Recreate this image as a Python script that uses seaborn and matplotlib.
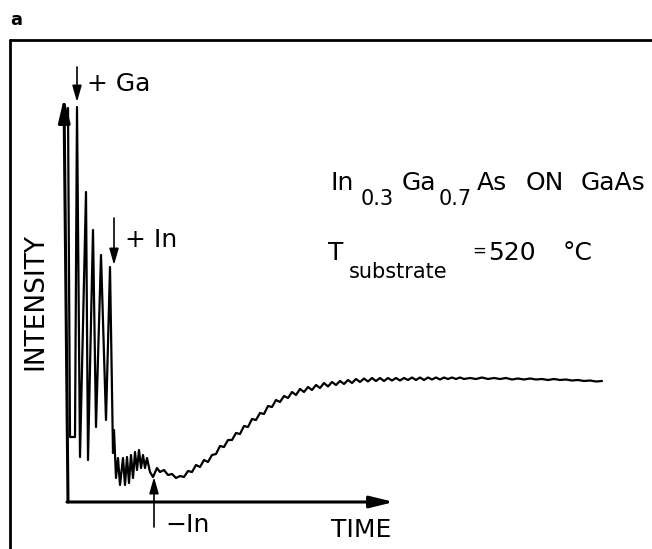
import matplotlib
matplotlib.use("Agg")
import matplotlib.pyplot as plt
from matplotlib.lines import Line2D
import seaborn as sns
import pandas as pd

# ---- data (time in arb. units, intensity in arb. units) ----
time = [0, 2, 7, 9, 12, 18, 20, 25, 28, 33, 38, 42, 45, 46, 48,
        50, 52, 55, 57, 59, 61, 63, 65, 67, 69, 71, 73, 75, 77, 79, 82,
        85, 89, 92, 96, 100, 104, 108, 112, 116, 120, 124,
        128, 132, 136, 140, 144, 148, 152, 156, 160, 164, 168, 172, 176, 180,
        184, 188, 192, 196, 200, 204, 208, 212, 216, 220, 224, 228, 232, 236,
        240, 244, 248, 252, 256, 260, 264, 268, 272, 276, 280, 284, 288, 292,
        296, 300, 304, 308, 312, 316, 320, 324, 328, 332, 336, 340, 344, 348,
        352, 356, 360, 364, 368, 372, 376, 380, 384, 388, 392, 396, 402, 408,
        414, 420, 426, 432, 438, 444, 450, 456, 462, 468, 474, 480, 486, 492,
        498, 504, 510, 516, 522, 528, 534]
intensity = [394, 65, 65, 395, 45, 310, 42, 272, 75, 247, 82, 235, 49, 72, 24,
             44, 17, 44, 17, 45, 19, 47, 24, 50, 32, 52, 34, 47, 34, 44, 30,
             25, 34, 30, 32, 27, 28, 24, 26, 25, 31, 30,
             37, 35, 42, 40, 47, 48, 56, 55, 62, 62, 69, 68, 76, 75,
             83, 82, 89, 88, 96, 95, 102, 100, 106, 104, 110, 107, 113, 110,
             115, 112, 117, 114, 119, 115.5, 120, 117, 121, 118, 122, 119, 123, 120,
             123.5, 120.5, 124, 121, 124, 121, 124, 121.5, 124, 121.5, 124, 122, 124.5, 122,
             124.5, 122, 124.5, 122.5, 124.5, 122.5, 124.5, 123, 124.5, 123, 124.5, 123, 124, 123,
             124.5, 123, 124, 123, 124, 122.5, 123.5, 122.5, 123.5, 122.5, 123, 122, 123, 122,
             122.5, 121.5, 122, 121, 121.5, 120.5, 121]

# annotation events: (label, time of arrow)
events_down = [("+ Ga", 9), ("+ In", 46)]
event_up = ("\u2212In", 86)

df = pd.DataFrame({"time": time, "intensity": intensity})

sns.set_theme(style="white")
plt.rcParams["font.family"] = ["DejaVu Sans"]
plt.rcParams["text.color"] = "black"

W, H = 652, 549
fig = plt.figure(figsize=(W / 100, H / 100), dpi=100)
ax = fig.add_axes([0, 0, 1, 1])
ax.set_xlim(-68, W - 68)
ax.set_ylim(502 - H, 502)
ax.axis("off")

# signal
sns.lineplot(data=df, x="time", y="intensity", sort=False, estimator=None,
             color="black", lw=1.6, ax=ax)

# axes arrows
head = "-|>,head_length=0.9,head_width=0.22"
ax.annotate("", xy=(-4, 404), xytext=(0, 0),
            arrowprops=dict(arrowstyle=head, lw=2.2, color="black",
                            shrinkA=0, shrinkB=0, mutation_scale=16))
ax.annotate("", xy=(326, 0), xytext=(-1, 0),
            arrowprops=dict(arrowstyle=head, lw=2.2, color="black",
                            shrinkA=0, shrinkB=0, mutation_scale=16))

# frame (top and left only)
fig.add_artist(Line2D([10 / W, 1], [1 - 40 / H] * 2, transform=fig.transFigure,
                      color="black", lw=2))
fig.add_artist(Line2D([10 / W, 10 / W], [1 - 40 / H, 0], transform=fig.transFigure,
                      color="black", lw=2))

FS = 18
arrow_kw = dict(arrowstyle="-|>,head_length=0.7,head_width=0.2", lw=1.2,
                color="black", shrinkA=0, shrinkB=0, mutation_scale=14)


def px(x, y):
    return x - 68, 502 - y


def put(s, cx, base, fs=FS, ha="center", **kw):
    tx, ty = px(cx, base)
    ax.text(tx, ty, s, fontsize=fs, ha=ha, va="baseline",
            color="black", **kw)


# event arrows
(lab_ga, t_ga), (lab_in, t_in) = events_down
ax.annotate("", xy=(t_ga, 400), xytext=(t_ga, 435), arrowprops=arrow_kw)
put(lab_ga, 87, 91, ha="left")
ax.annotate("", xy=(t_in, 237), xytext=(t_in, 284), arrowprops=arrow_kw)
put(lab_in, 125, 247, ha="left")
lab_out, t_out = event_up
ax.annotate("", xy=(t_out, 25), xytext=(t_out, -25), arrowprops=arrow_kw)
put(lab_out, 165, 532, ha="left")

# axis labels
put("TIME", 361, 537)
ax.text(-33, 200, "INTENSITY", fontsize=FS + 1, rotation=90,
        ha="center", va="center", color="black")

# panel letter
fig.text(10 / W, 1 - 25 / H, "a", fontsize=13, fontweight="bold",
         ha="left", va="baseline", color="black")

# composition and temperature labels (centre x, baseline y, size)
for s, cx, base, fs in [("In", 342, 190, FS), ("0.3", 377, 205, 15),
                        ("Ga", 419, 190, FS), ("0.7", 455, 205, 15),
                        ("As", 492, 190, FS), ("ON", 545, 190, FS),
                        ("GaAs", 613, 190, FS),
                        ("T", 336, 260, FS), ("substrate", 398, 278, 15),
                        ("=", 479, 256, 12), ("520", 512, 260, FS),
                        ("\u00b0C", 578, 260, FS)]:
    put(s, cx, base, fs)

fig.savefig("out.png", dpi=100, facecolor="white")
